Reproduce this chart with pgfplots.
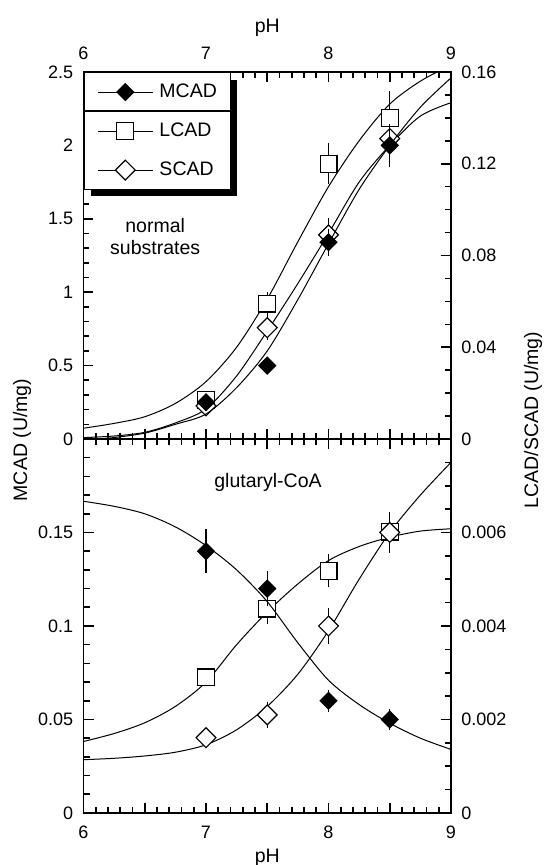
\documentclass[border=0pt]{standalone}
\usepackage{fontspec}
\setmainfont{Liberation Sans}
\usepackage{pgfplots}
\pgfplotsset{compat=1.18}

\pgfplotsset{
  panel/.style={
    scale only axis, width=183.75pt, anchor=south west,
    xmin=6, xmax=9,
    xtick={6,6.5,...,9}, xticklabels={6,{},7,{},8,{},9}, minor x tick num=4,
    scaled y ticks=false,
    tick align=inside, major tick length=5pt, minor tick length=3pt,
    every tick/.style={black, line width=0.8pt},
    axis line style={line width=0.9pt},
    tick label style={font=\fontsize{9}{10}\selectfont},
    x tick label style={inner ysep=6.2pt},
    y tick label style={inner xsep=5pt},
    label style={font=\fontsize{9.75}{11}\selectfont},
  },
  curve/.style={black, line width=0.5pt, smooth, no markers, forget plot},
  pts/.style={only marks, black, line width=0.6pt, forget plot,
    error bars/y dir=both, error bars/y explicit,
    error bars/error bar style={line width=0.6pt, black},
    error bars/error mark options={mark size=1.75pt, line width=0.6pt, black}},
  mcad/.style={pts, mark=square*, mark options={rotate=45, mark size=2.95pt, fill=black}},
  lcad/.style={pts, mark=square*, mark options={mark size=4.2pt, fill=white}},
  scad/.style={pts, mark=square*, mark options={rotate=45, mark size=3.5pt, fill=white}},
}

\begin{document}
\begin{tikzpicture}
\useasboundingbox (-41.75pt,-26pt) rectangle (230.25pt,406.5pt);

% top panel, right axis
\begin{axis}[panel, at={(0pt,187pt)}, height=183.5pt,
  axis x line=none, axis y line*=right,
  ymin=0, ymax=0.16, ytick={0,0.04,0.08,0.12,0.16}, yticklabels={0,0.04,0.08,0.12,0.16},
  minor y tick num=3,
  ylabel={LCAD/SCAD (U/mg)},
  y label style={at={(axis description cs:1.2231,0.0518)}, anchor=center}]
\addplot[curve] coordinates {(6,0.0047) (6.25,0.0068) (6.5,0.0097) (6.75,0.0155) (7,0.025) (7.25,0.040) (7.5,0.061) (7.75,0.086) (8,0.110) (8.25,0.130) (8.5,0.146) (8.75,0.156) (9,0.163)};
\addplot[curve] coordinates {(6,0.0006) (6.25,0.0013) (6.5,0.0029) (6.75,0.0070) (7,0.0131) (7.25,0.0275) (7.5,0.0471) (7.75,0.0678) (8,0.0896) (8.25,0.112) (8.5,0.128) (8.75,0.1408) (9,0.1466)};
\addplot[lcad] table[row sep=\\, x index=0, y index=1, y error index=2] {
7 0.017 0.002\\ 7.5 0.059 0.0035\\ 8 0.120 0.0075\\ 8.5 0.140 0.010\\
};
\addplot[scad] table[row sep=\\, x index=0, y index=1, y error index=2] {
7 0.0144 0.001\\ 7.5 0.0485 0.004\\ 8 0.089 0.0057\\ 8.5 0.131 0.003\\
};
\end{axis}

% top panel, left axis
\begin{axis}[panel, at={(0pt,187pt)}, height=183.5pt,
  ymin=0, ymax=2.5, ytick={0,0.5,1,1.5,2,2.5}, yticklabels={0,0.5,1,1.5,2,2.5},
  minor y tick num=4, ytick pos=left, xticklabel pos=upper,
  xlabel={pH}, x label style={at={(axis description cs:0.5,1.1199)}, anchor=center},
  ylabel={MCAD (U/mg)},
  y label style={at={(axis description cs:-0.1673,-0.003)}, anchor=center},
  legend image code/.code={\draw[mark repeat=2, mark phase=2, #1] plot coordinates {(0pt,0pt) (13.75pt,0pt) (27.5pt,0pt)};},
  legend cell align=left,
  legend style={name=leg, at={(0,1)}, anchor=north west, draw=black, line width=0.6pt, fill=white,
    inner xsep=6.6pt, inner ysep=0pt, /tikz/column sep=3.1pt, /tikz/row sep=0pt,
    nodes={inner sep=0pt, minimum height=19.5pt, font=\fontsize{9.75}{11}\selectfont}}]
\addlegendimage{black, line width=0.5pt, mark=square*, mark options={rotate=45, mark size=2.95pt, fill=black, line width=0.6pt}}
\addlegendentry{MCAD}
\addlegendimage{black, line width=0.5pt, mark=square*, mark options={mark size=4.2pt, fill=white, line width=0.6pt}}
\addlegendentry{LCAD}
\addlegendimage{black, line width=0.5pt, mark=square*, mark options={rotate=45, mark size=3.5pt, fill=white, line width=0.6pt}}
\addlegendentry{SCAD}
\addplot[curve] coordinates {(6,-0.01) (6.25,0.01) (6.5,0.04) (6.75,0.10) (7,0.17) (7.25,0.35) (7.5,0.60) (7.75,0.95) (8,1.33) (8.25,1.70) (8.5,2.0) (8.75,2.26) (9,2.46)};
\addplot[mcad] table[row sep=\\, x index=0, y index=1, y error index=2] {
7 0.25 0.03\\ 7.5 0.50 0.02\\ 8 1.34 0.068\\ 8.5 2.00 0.12\\
};
\node[align=center, font=\fontsize{9.75}{11}\selectfont] at (axis cs:6.585,1.376) {normal\\substrates};
\end{axis}

% bottom panel, right axis
\begin{axis}[panel, at={(0pt,0pt)}, height=187pt,
  axis x line=none, axis y line*=right,
  ymin=0, ymax=0.008, ytick={0,0.002,0.004,0.006,0.008}, yticklabels={0,0.002,0.004,0.006,{}},
  minor y tick num=3]
\addplot[curve] coordinates {(6,0.00153) (6.25,0.0017) (6.5,0.00193) (6.75,0.00228) (7,0.0028) (7.25,0.0036) (7.5,0.0043) (7.75,0.0049) (8,0.0054) (8.25,0.0057) (8.5,0.0059) (8.75,0.00603) (9,0.00608)};
\addplot[curve] coordinates {(6,0.00114) (6.25,0.00117) (6.5,0.00122) (6.75,0.0013) (7,0.00146) (7.25,0.00178) (7.5,0.00228) (7.75,0.00297) (8,0.0039) (8.25,0.0050) (8.5,0.0060) (8.75,0.0068) (9,0.0075)};
\addplot[lcad] table[row sep=\\, x index=0, y index=1, y error index=2] {
7 0.0029 0.0001\\ 7.5 0.00437 0.00025\\ 8 0.00518 0.00028\\ 8.5 0.00602 0.0003\\
};
\addplot[scad] table[row sep=\\, x index=0, y index=1, y error index=2] {
7 0.00161 0.0001\\ 7.5 0.0021 0.0002\\ 8 0.0040 0.0003\\ 8.5 0.0060 0.00036\\
};
\end{axis}

% bottom panel, left axis
\begin{axis}[panel, at={(0pt,0pt)}, height=187pt,
  ymin=0, ymax=0.2, ytick={0,0.05,0.1,0.15,0.2}, yticklabels={0,0.05,0.1,0.15,{}},
  minor y tick num=4, ytick pos=left,
  xlabel={pH}, x label style={at={(axis description cs:0.5,-0.1203)}, anchor=center}]
\addplot[curve] coordinates {(6,0.1667) (6.25,0.164) (6.5,0.160) (6.75,0.153) (7,0.143) (7.25,0.130) (7.5,0.113) (7.75,0.091) (8,0.071) (8.25,0.058) (8.5,0.048) (8.75,0.040) (9,0.034)};
\addplot[mcad] table[row sep=\\, x index=0, y index=1, y error index=2] {
7 0.140 0.010\\ 7.5 0.120 0.0075\\ 8 0.060 0.004\\ 8.5 0.050 0.004\\
};
\node[font=\fontsize{9.75}{11}\selectfont] at (axis cs:7.506,0.177) {glutaryl-CoA};
\end{axis}

% legend shadow and separator
\fill[black] ([yshift=-4pt]leg.north east) rectangle ([xshift=3pt,yshift=-3pt]leg.south east);
\fill[black] ([xshift=3.5pt]leg.south west) rectangle ([xshift=3pt,yshift=-3pt]leg.south east);
\draw[line width=0.6pt] ([yshift=-19.5pt]leg.north west) -- ([yshift=-19.5pt]leg.north east);
\end{tikzpicture}
\end{document}
